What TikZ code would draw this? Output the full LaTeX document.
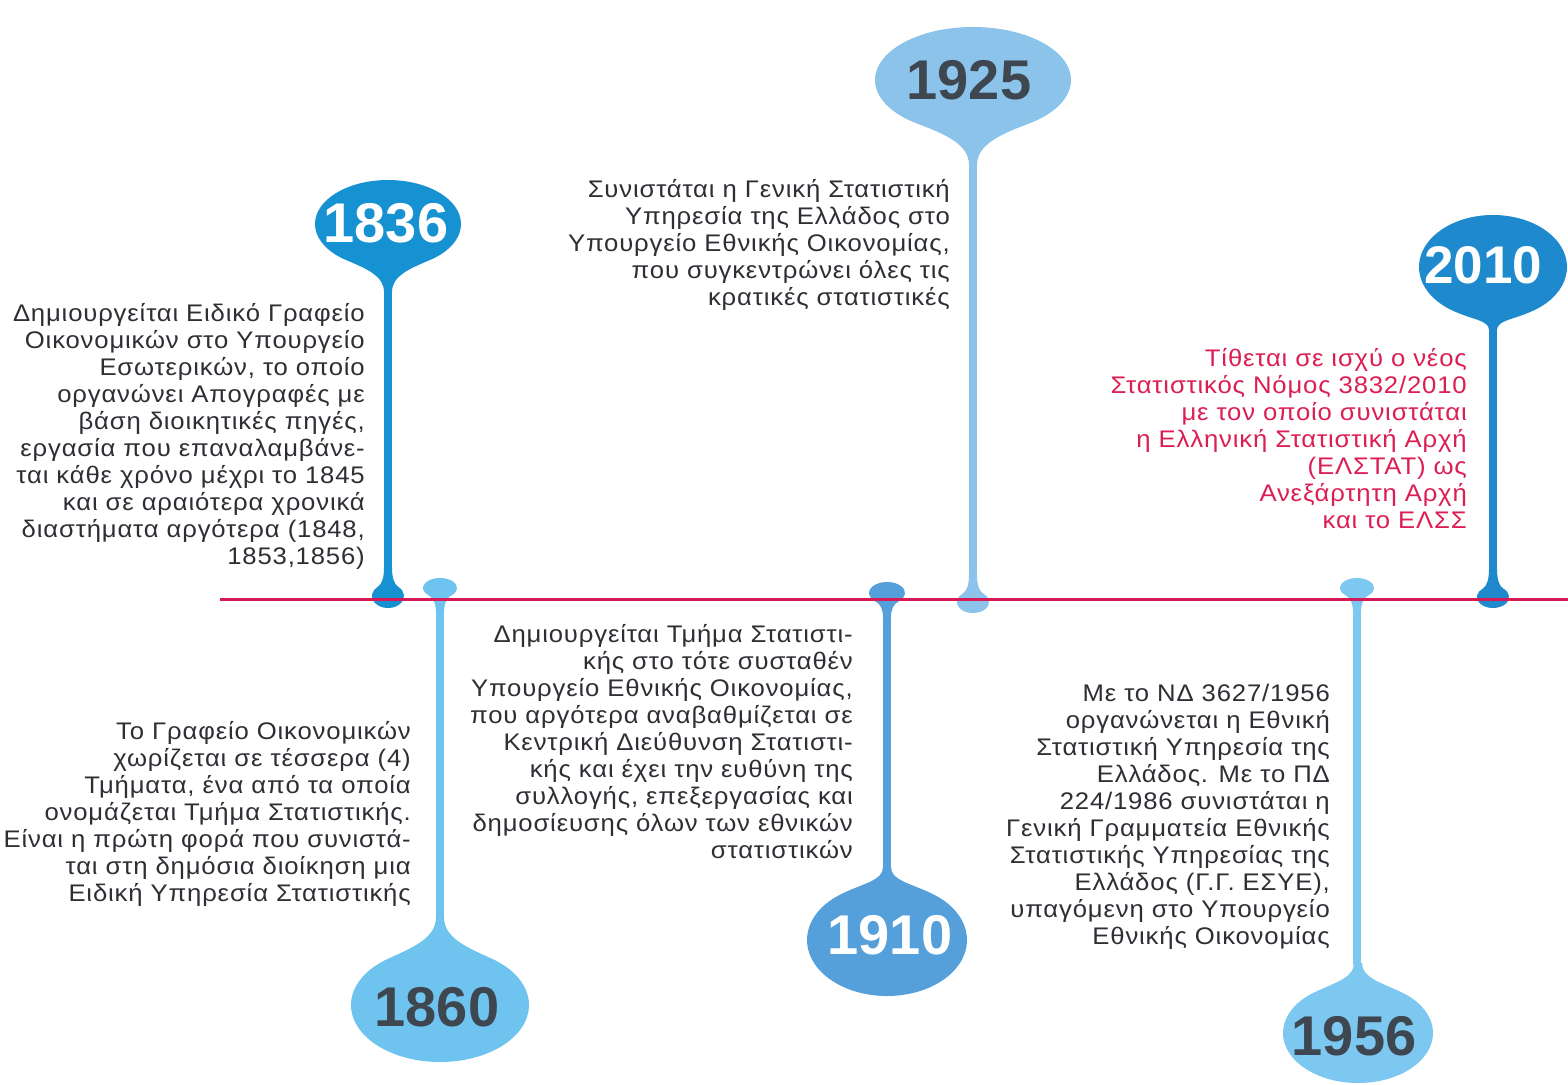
\documentclass[tikz,border=0pt]{standalone}
\usepackage{fontspec}
\setmainfont{Liberation Sans}
\newfontfamily\descfont{Liberation Sans}[FakeStretch=1.07,LetterSpace=3.5]
\definecolor{cA}{RGB}{22,145,210}
\definecolor{cB}{RGB}{110,196,238}
\definecolor{cC}{RGB}{140,195,235}
\definecolor{cD}{RGB}{85,160,218}
\definecolor{cE}{RGB}{30,138,205}
\definecolor{cF}{RGB}{125,200,240}
\definecolor{lineR}{RGB}{215,25,85}
\definecolor{txtR}{RGB}{220,30,85}
\definecolor{txtD}{RGB}{45,47,52}
\definecolor{yrD}{RGB}{62,70,80}
\newcommand\balloon[9]{%
\begin{scope}[shift={(#1,#2)},yscale=#6]
\pgfmathsetmacro\bJa{90-#7}
\pgfmathsetmacro\bJb{90+#7-360}
\pgfmathsetmacro\bPx{#3*cos(\bJa)}
\pgfmathsetmacro\bPy{#4*sin(\bJa)}
\pgfmathsetmacro\bCx{\bPx-0.35*#3*sin(\bJa)}
\pgfmathsetmacro\bCy{\bPy+0.35*#4*cos(\bJa)}
\pgfmathsetmacro\bSy{#5-0.5*(#5-\bPy)}
\fill[#8] (#9,#5) .. controls (#9,\bSy) and (\bCx,\bCy) .. (\bPx,\bPy)
  arc[start angle=\bJa,end angle=\bJb,x radius=#3,y radius=#4]
  .. controls (-\bCx,\bCy) and (-#9,\bSy) .. (-#9,#5) -- cycle;
\end{scope}}
\tikzset{
  desc/.style={anchor=north east,inner sep=0pt,align=right,text=txtD,font=\descfont\fontsize{24}{27}\selectfont},
  yearW/.style={inner sep=0pt,text=white,font=\fontsize{56}{60}\selectfont\bfseries},
  yearD/.style={inner sep=0pt,text=yrD,font=\fontsize{56}{60}\selectfont\bfseries},
  stem/.style={line width=8pt}
}
\begin{document}
\begin{tikzpicture}[x=1pt,y=-1pt]
\useasboundingbox[fill=white] (0,0) rectangle (1568,1084);
% 1836
\balloon{388}{224}{73}{44}{68}{1}{35}{cA}{4}
\balloon{388}{596}{16}{12}{28}{-1}{40}{cA}{4}
\draw[stem,cA] (388,290) -- (388,570);
% 1860
\balloon{440}{1005}{89}{57}{88}{-1}{35}{cB}{4}
\balloon{440}{588}{17}{10}{25}{1}{40}{cB}{4}
\draw[stem,cB] (440,611) -- (440,919);
% 1910
\balloon{887}{940}{80}{56}{73}{-1}{35}{cD}{4}
\balloon{887}{593}{18}{11}{24}{1}{40}{cD}{4}
\draw[stem,cD] (887,615) -- (887,869);
% 1925
\balloon{973}{80}{98}{53}{85}{1}{35}{cC}{4}
\balloon{973}{602}{16}{11}{27}{-1}{40}{cC}{4}
\draw[stem,cC] (973,163) -- (973,577);
% 1956
\balloon{1358}{1033}{75}{50}{70}{-1}{35}{cF}{4}
\balloon{1357}{588}{17}{10}{24}{1}{40}{cF}{4}
\draw[stem,cF] (1357,610) -- (1357,965);
% 2010
\balloon{1493}{267}{74}{52}{63}{1}{35}{cE}{4}
\balloon{1493}{597}{16}{11}{28}{-1}{40}{cE}{4}
\draw[stem,cE] (1493,328) -- (1493,571);
% timeline
\draw[lineR,line width=3pt] (220,599) coordinate (L0) -- (1568,599) coordinate (L1);
% years
\node[yearW] (y1836) at (386,223) {1836};
\node[yearD] (y1860) at (437,1007) {1860};
\node[yearW] (y1910) at (890,935) {1910};
\node[yearD] (y1925) at (969,80) {1925};
\node[yearD] (y1956) at (1354,1036) {1956};
\node[yearW,font=\fontsize{53}{58}\selectfont\bfseries] (y2010) at (1483,265) {2010};
% texts
\node[desc] (t1836) at (365,303) {Δημιουργείται Ειδικό Γραφείο\\Οικονομικών στο Υπουργείο\\Εσωτερικών, το οποίο\\οργανώνει Απογραφές με\\βάση διοικητικές πηγές,\\εργασία που επαναλαμβάνε-\\ται κάθε χρόνο μέχρι το 1845\\και σε αραιότερα χρονικά\\διαστήματα αργότερα (1848,\\1853,1856)};
\node[desc] (t1925) at (950,179) {Συνιστάται η Γενική Στατιστική\\Υπηρεσία της Ελλάδος στο\\Υπουργείο Εθνικής Οικονομίας,\\που συγκεντρώνει όλες τις\\κρατικές στατιστικές};
\node[desc,text=txtR] (t2010) at (1467,348) {Τίθεται σε ισχύ ο νέος\\Στατιστικός Νόμος 3832/2010\\με τον οποίο συνιστάται\\η Ελληνική Στατιστική Αρχή\\(ΕΛΣΤΑΤ) ως\\Ανεξάρτητη Αρχή\\και το ΕΛΣΣ};
\node[desc] (t1860) at (411,721) {Το Γραφείο Οικονομικών\\χωρίζεται σε τέσσερα (4)\\Τμήματα, ένα από τα οποία\\ονομάζεται Τμήμα Στατιστικής.\\Είναι η πρώτη φορά που συνιστά-\\ται στη δημόσια διοίκηση μια\\Ειδική Υπηρεσία Στατιστικής};
\node[desc] (t1910) at (853,624) {Δημιουργείται Τμήμα Στατιστι-\\κής στο τότε συσταθέν\\Υπουργείο Εθνικής Οικονομίας,\\που αργότερα αναβαθμίζεται σε\\Κεντρική Διεύθυνση Στατιστι-\\κής και έχει την ευθύνη της\\συλλογής, επεξεργασίας και\\δημοσίευσης όλων των εθνικών\\στατιστικών};
\node[desc] (t1956) at (1330,684) {Με το ΝΔ 3627/1956\\οργανώνεται η Εθνική\\Στατιστική Υπηρεσία της\\Ελλάδος. Με το ΠΔ\\224/1986 συνιστάται η\\Γενική Γραμματεία Εθνικής\\Στατιστικής Υπηρεσίας της\\Ελλάδος (Γ.Γ. ΕΣΥΕ),\\υπαγόμενη στο Υπουργείο\\Εθνικής Οικονομίας};
\end{tikzpicture}
\end{document}
